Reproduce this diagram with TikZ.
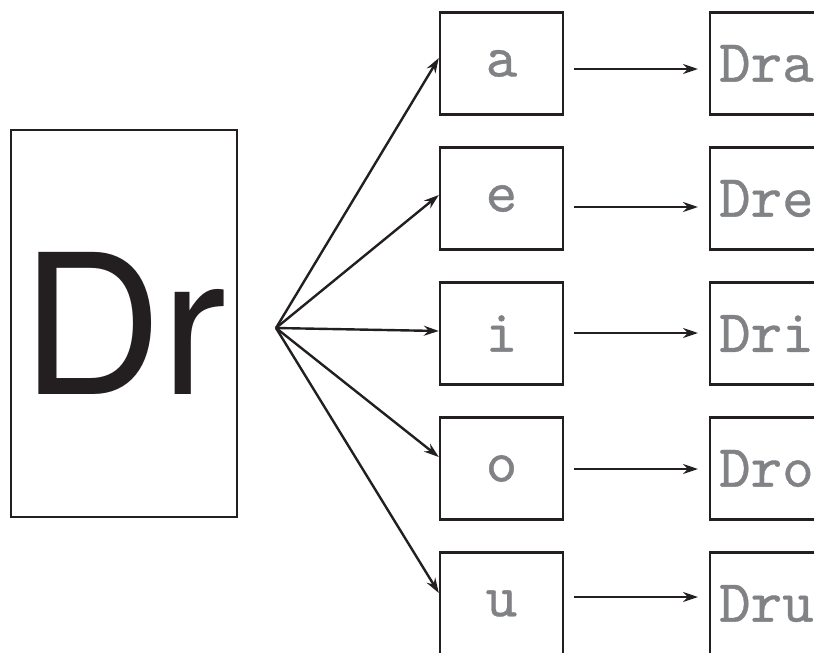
\documentclass[tikz,border=0pt]{standalone}
\usepackage{fontspec}
\setmainfont{TeX Gyre Heros}
\newfontfamily\typewr{lmmono10-regular.otf}[FakeBold=0.6]
\usepackage{tikz}
\usetikzlibrary{arrows.meta,positioning}
\definecolor{cLetter}{HTML}{808285}
\definecolor{cInk}{HTML}{231F20}
\tikzset{
  stem/.style ={draw=cInk, line width=2.4pt, minimum width=226pt, minimum height=387pt,
                inner sep=0pt, font=\fontsize{195}{200}\selectfont, text=cInk},
  vowel/.style={draw=cInk, line width=2.4pt, minimum width=123pt, minimum height=102pt,
                inner sep=0pt, font=\typewr\fontsize{60}{62}\selectfont, text=cLetter},
  word/.style ={draw=cInk, line width=2.4pt, minimum height=102pt, text width=150pt,
                align=left, inner xsep=9pt, inner ysep=0pt,
                font=\typewr\fontsize{60}{62}\selectfont, text=cLetter},
  arrow/.style={-{Stealth[length=15pt,width=10pt,inset=5pt]}, line width=2.4pt, draw=cInk},
}
\begin{document}
\begin{tikzpicture}[x=1pt,y=-1pt]
    \useasboundingbox (0,0) rectangle (814,653);
    \clip (0,0) rectangle (814,653);
    \node[stem] (dr) at (124,323.5) {Dr};
    \coordinate (hub) at (276,328);
    % tip and arrow offsets as in the drawing
    \foreach \v/\t/\h [count=\i from 0] in {a/5.5/-5.5, e/3.5/-8.5, i/2.5/0.5, o/11.5/-0.5, u/10.5/6.5}{
      \node[vowel] (v\v) at (501.5,63.5+135*\i) {\v};
      \node[word, anchor=west] (w\v) at (709,63.5+135*\i) {Dr\v};
      \draw[arrow] (hub) -- ([yshift=\t pt]v\v.west);
      \draw[arrow, shorten <=10pt, shorten >=11pt] ([yshift=\h pt]v\v.east) -- ([yshift=\h pt]w\v.west);
    }
\end{tikzpicture}
\end{document}
